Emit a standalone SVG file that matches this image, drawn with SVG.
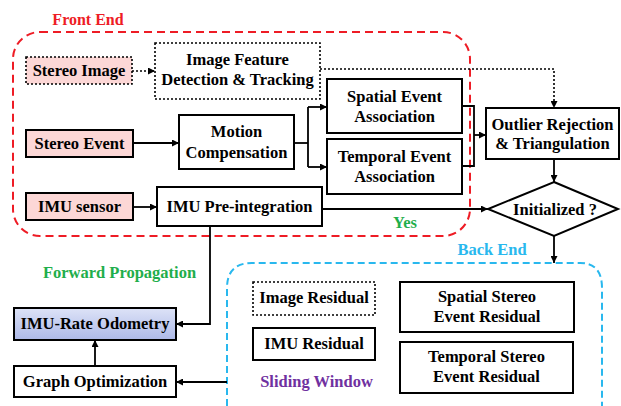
<svg xmlns="http://www.w3.org/2000/svg" width="621" height="406" viewBox="0 0 621 406">
<defs>
<marker id="ah" viewBox="0 0 10 10" refX="10" refY="5" markerWidth="7" markerHeight="7" markerUnits="userSpaceOnUse" orient="auto">
<path d="M0,0 L10,5 L0,10 z" fill="#000"/>
</marker>
<linearGradient id="odo" x1="0" y1="0" x2="0" y2="1">
<stop offset="0" stop-color="#dde3f7"/>
<stop offset="1" stop-color="#adb9e8"/>
</linearGradient>
</defs>
<style>
text{font-family:"Liberation Serif","Times New Roman",serif;font-weight:bold;font-size:16.5px;text-anchor:middle;fill:#000}
.box{fill:#fff;stroke:#000;stroke-width:2}
.dot{fill:#fff;stroke:#000;stroke-width:1.6;stroke-dasharray:2,2}
.pink{fill:#fcd7d6}
.ln{fill:none;stroke:#000;stroke-width:1.8}
.dln{fill:none;stroke:#000;stroke-width:1.6;stroke-dasharray:2,2}
.red{fill:#ee1c25}
.green{fill:#1fae4b}
.cyan{fill:#29b8ee}
.purple{fill:#7030a0}
</style>
<rect width="621" height="406" fill="#fff"/>

<g id="front-end">
<rect x="13" y="32" width="457" height="204" rx="27" ry="27" fill="none" stroke="#ee1c25" stroke-width="2" stroke-dasharray="8,5"/>
<text x="88" y="25" class="red" style="font-size:16px">Front End</text>
</g>
<g id="back-end">
<path d="M227,406 L227,288 Q227,263 252,263 L580,263 Q602,263 602,288 L602,406" fill="none" stroke="#29b8ee" stroke-width="2" stroke-dasharray="7,4"/>
<text x="492" y="255" class="cyan">Back End</text>
</g>

<g id="stereo-image">
<rect x="26" y="57" width="106" height="27" class="dot pink"/>
<text x="79" y="76">Stereo Image</text>
</g>
<g id="image-feature">
<rect x="155" y="43" width="165" height="56" class="dot"/>
<text x="237.5" y="65">Image Feature</text>
<text x="237.5" y="85">Detection &amp; Tracking</text>
</g>
<g id="stereo-event">
<rect x="26" y="130" width="107" height="27" class="box pink"/>
<text x="79.5" y="149">Stereo Event</text>
</g>
<g id="motion-compensation">
<rect x="179" y="115" width="115" height="54" class="box"/>
<text x="236.5" y="137">Motion</text>
<text x="236.5" y="158">Compensation</text>
</g>
<g id="imu-sensor">
<rect x="26" y="193" width="107" height="27" class="box pink"/>
<text x="79.5" y="212">IMU sensor</text>
</g>
<g id="imu-preintegration">
<rect x="157" y="187" width="165" height="39" class="box"/>
<text x="239.5" y="212">IMU Pre-integration</text>
</g>
<g id="spatial-association">
<rect x="327" y="79" width="135" height="54" class="box"/>
<text x="394.5" y="102">Spatial Event</text>
<text x="394.5" y="122">Association</text>
</g>
<g id="temporal-association">
<rect x="327" y="139" width="135" height="55" class="box"/>
<text x="394.5" y="162">Temporal Event</text>
<text x="394.5" y="182">Association</text>
</g>
<g id="outlier">
<rect x="486" y="108" width="133" height="51" class="box"/>
<text x="552.5" y="130">Outlier Rejection</text>
<text x="552.5" y="149">&amp; Triangulation</text>
</g>
<g id="initialized">
<path d="M554,182 L618,209 L554,236 L488,209 Z" class="box"/>
<text x="555" y="215">Initialized ?</text>
</g>
<g id="image-residual">
<rect x="253" y="282" width="122" height="33" class="dot"/>
<text x="314" y="303">Image Residual</text>
</g>
<g id="imu-residual">
<rect x="253" y="328" width="122" height="32" class="box"/>
<text x="314" y="349">IMU Residual</text>
</g>
<g id="spatial-residual">
<rect x="400" y="282" width="174" height="50" class="box"/>
<text x="487" y="302">Spatial Stereo</text>
<text x="487" y="322">Event Residual</text>
</g>
<g id="temporal-residual">
<rect x="400" y="342" width="173" height="51" class="box"/>
<text x="486.5" y="362">Temporal Stereo</text>
<text x="486.5" y="382">Event Residual</text>
</g>
<g id="sliding-window">
<text x="316.5" y="387" class="purple">Sliding Window</text>
</g>
<g id="imu-rate-odometry">
<rect x="14" y="308" width="162" height="32" fill="url(#odo)" stroke="#000" stroke-width="2"/>
<text x="95" y="329">IMU-Rate Odometry</text>
</g>
<g id="graph-optimization">
<rect x="14" y="366" width="162" height="31" class="box"/>
<text x="95" y="387">Graph Optimization</text>
</g>
<g id="labels">
<text x="405" y="228" class="green">Yes</text>
<text x="119.5" y="278" class="green">Forward Propagation</text>
</g>

<g id="connectors">
<path d="M132,71 L155,71" class="dln" marker-end="url(#ah)"/>
<path d="M133,143 L179,143" class="ln" marker-end="url(#ah)"/>
<path d="M133,207 L157,207" class="ln" marker-end="url(#ah)"/>
<path d="M294,143 L308,143" class="ln"/>
<path d="M308,107 L308,167" class="ln"/>
<path d="M308,107 L327,107" class="ln" marker-end="url(#ah)"/>
<path d="M308,167 L327,167" class="ln" marker-end="url(#ah)"/>
<path d="M462,106 L474,106 L474,166 L462,166" class="ln"/>
<path d="M474,135 L486,135" class="ln" marker-end="url(#ah)"/>
<path d="M320,69 L554,69 L554,108" class="dln" marker-end="url(#ah)"/>
<path d="M554,159 L554,182" class="ln" marker-end="url(#ah)"/>
<path d="M322,209 L488,209" class="ln" marker-end="url(#ah)"/>
<path d="M554,236 L554,263" class="ln" marker-end="url(#ah)"/>
<path d="M210,226 L210,324 L176,324" class="ln" marker-end="url(#ah)"/>
<path d="M95,366 L95,340" class="ln" marker-end="url(#ah)"/>
<path d="M227,382 L176,382" class="ln" marker-end="url(#ah)"/>
</g>
</svg>
